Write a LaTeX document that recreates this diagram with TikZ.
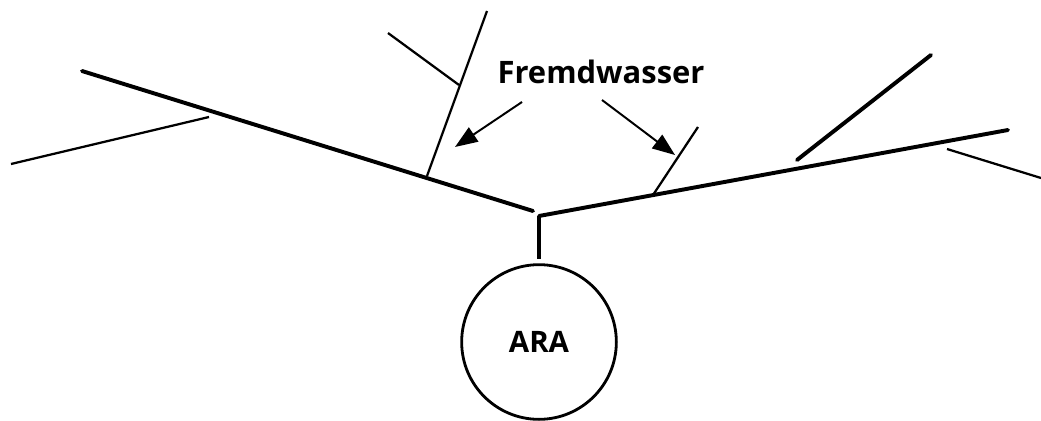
\documentclass[tikz,border=0pt]{standalone}
\usepackage{fontspec}
\setsansfont{Open Sans}
\usetikzlibrary{arrows.meta,positioning}

\tikzset{
  main/.style={line width=2.8pt, line cap=round},
  branch/.style={line width=1.6pt},
  pointer/.style={line width=1.4pt, -{Triangle[length=16pt,width=12pt]}}
}

\begin{document}
\begin{tikzpicture}[x=0.025cm, y=-0.025cm]
  \useasboundingbox (0,0) rectangle (1041,421);

  % Treatment plant
  \node[draw, circle, line width=2pt, minimum size=110pt, inner sep=0pt,
        font=\sffamily\fontsize{21}{24}\selectfont\bfseries] (ara) at (539,342) {ARA};
  \node[font=\sffamily\fontsize{22}{26}\selectfont\bfseries] (fremd) at (601,72) {Fremdwasser};

  % Sewer junction
  \coordinate (jl) at (533,211);
  \coordinate (jr) at (539,216);
  \coordinate (stub) at (539,259);
  \draw[main, line cap=butt] (jr) -- (stub);

  % Left main sewer with branches
  \coordinate (l0) at (82,71);
  \draw[main] (l0) -- (jl);
  \coordinate (lb0) at (11,164);
  \coordinate (lb1) at (209,117);
  \draw[branch] (lb0) -- (lb1);
  \coordinate (ub0) at (427,176);
  \coordinate (ub1) at (487,11);
  \draw[branch] (ub0) -- (ub1);
  \coordinate (sb0) at (388,33);
  \coordinate (sb1) at (459,85);
  \draw[branch] (sb0) -- (sb1);

  % Right main sewer with branches
  \coordinate (r0) at (1008,130);
  \draw[main] (jr) -- (r0);
  \coordinate (rb0) at (653,195);
  \coordinate (rb1) at (698,127);
  \draw[branch] (rb0) -- (rb1);
  \coordinate (tb0) at (797,160);
  \coordinate (tb1) at (931,55);
  \draw[main] (tb0) -- (tb1);
  \coordinate (qb0) at (947,149);
  \coordinate (qb1) at (1041,178);
  \draw[branch] (qb0) -- (qb1);

  % Labels
  \coordinate (a0) at (522,102);
  \coordinate (a1) at (455,147);
  \coordinate (b0) at (602,100);
  \coordinate (b1) at (675,155);
  \draw[pointer] (a0) -- (a1);
  \draw[pointer] (b0) -- (b1);
\end{tikzpicture}
\end{document}
